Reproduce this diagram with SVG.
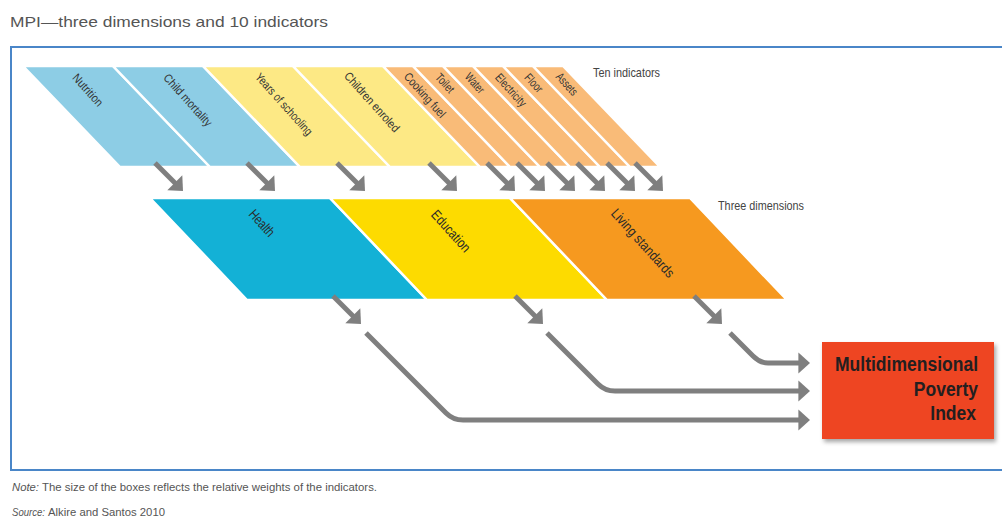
<svg xmlns="http://www.w3.org/2000/svg" width="1002" height="517" viewBox="0 0 1002 517">
<style>
  .cap{font-family:"Liberation Sans","DejaVu Sans",sans-serif;fill:#555}
  .ind{stroke:#fff;stroke-width:2.5;stroke-linejoin:miter}
  .blue{fill:#8dcde5}.lyel{fill:#fde985}.lor{fill:#f9bb78}
  .health{fill:#13b1d6}.edu{fill:#fddb00}.liv{fill:#f6991f}
  .lbl{font-family:"Liberation Sans","DejaVu Sans",sans-serif;font-size:12px;fill:#333;text-anchor:middle}
  .dlbl{font-family:"Liberation Sans","DejaVu Sans",sans-serif;font-size:14px;fill:#2a2a2a;text-anchor:middle}
  .side{font-family:"Liberation Sans","DejaVu Sans",sans-serif;font-size:13px;fill:#444}
  .arr{fill:none;stroke:#7f7f7f;stroke-width:5;marker-end:url(#ah)}
  .mpi{font-family:"Liberation Sans","DejaVu Sans",sans-serif;font-weight:bold;font-size:21px;fill:#231f20;text-anchor:end}
</style>
<defs>
  <marker id="ah" markerUnits="userSpaceOnUse" viewBox="-15 -15 30 30" markerWidth="30" markerHeight="30" refX="0" refY="0" orient="auto">
    <path d="M-1,-10.6 L10.6,0 L-1,10.6 Z" fill="#7f7f7f"/>
  </marker>
  <filter id="sh" x="-10%" y="-10%" width="130%" height="130%">
    <feDropShadow dx="2" dy="3" stdDeviation="2" flood-color="#000" flood-opacity="0.35"/>
  </filter>
</defs>
<rect width="1002" height="517" fill="#fff"/>
<text class="cap" x="10" y="27" font-size="15" textLength="318" lengthAdjust="spacingAndGlyphs">MPI—three dimensions and 10 indicators</text>
<rect x="11" y="47" width="1000" height="423" fill="none" stroke="#4a86c8" stroke-width="2"/>

<g id="indicators">
  <g id="ind-nutrition"><polygon class="ind blue" points="23,66 113,66 210,167 120,167"/>
    <text class="lbl" transform="translate(88,90) rotate(48)" dy="0.35em" textLength="39" lengthAdjust="spacingAndGlyphs">Nutrition</text></g>
  <g id="ind-child-mortality"><polygon class="ind blue" points="113,66 203,66 300,167 210,167"/>
    <text class="lbl" transform="translate(188,100) rotate(48)" dy="0.35em" textLength="66" lengthAdjust="spacingAndGlyphs">Child mortality</text></g>
  <g id="ind-years-schooling"><polygon class="ind lyel" points="203,66 293,66 390,167 300,167"/>
    <text class="lbl" transform="translate(284,104) rotate(48)" dy="0.35em" textLength="79" lengthAdjust="spacingAndGlyphs">Years of schooling</text></g>
  <g id="ind-children-enrolled"><polygon class="ind lyel" points="293,66 383,66 480,167 390,167"/>
    <text class="lbl" transform="translate(372,102) rotate(48)" dy="0.35em" textLength="76" lengthAdjust="spacingAndGlyphs">Children enroled</text></g>
  <g id="ind-cooking-fuel"><polygon class="ind lor" points="383,66 413,66 510,167 480,167"/>
    <text class="lbl" transform="translate(425,95) rotate(48)" dy="0.35em" textLength="56" lengthAdjust="spacingAndGlyphs">Cooking fuel</text></g>
  <g id="ind-toilet"><polygon class="ind lor" points="413,66 443,66 540,167 510,167"/>
    <text class="lbl" transform="translate(445,83) rotate(48)" dy="0.35em" textLength="22" lengthAdjust="spacingAndGlyphs">Toilet</text></g>
  <g id="ind-water"><polygon class="ind lor" points="443,66 473,66 570,167 540,167"/>
    <text class="lbl" transform="translate(475,83) rotate(48)" dy="0.35em" textLength="23" lengthAdjust="spacingAndGlyphs">Water</text></g>
  <g id="ind-electricity"><polygon class="ind lor" points="473,66 503,66 600,167 570,167"/>
    <text class="lbl" transform="translate(511,90) rotate(48)" dy="0.35em" textLength="40" lengthAdjust="spacingAndGlyphs">Electricity</text></g>
  <g id="ind-floor"><polygon class="ind lor" points="503,66 533,66 630,167 600,167"/>
    <text class="lbl" transform="translate(534,83) rotate(48)" dy="0.35em" textLength="21" lengthAdjust="spacingAndGlyphs">Floor</text></g>
  <g id="ind-assets"><polygon class="ind lor" points="533,66 563,66 660,167 630,167"/>
    <text class="lbl" transform="translate(567,84) rotate(48)" dy="0.35em" textLength="26" lengthAdjust="spacingAndGlyphs">Assets</text></g>
  <text id="ten-indicators" class="side" x="593" y="77" textLength="67" lengthAdjust="spacingAndGlyphs">Ten indicators</text>
</g>

<g id="dimensions">
  <g id="dim-health"><polygon class="ind health" points="150,198 330,198 427,300 247,300"/>
    <text class="dlbl" transform="translate(262,223) rotate(48)" dy="0.35em" textLength="31" lengthAdjust="spacingAndGlyphs">Health</text></g>
  <g id="dim-education"><polygon class="ind edu" points="330,198 510,198 607,300 427,300"/>
    <text class="dlbl" transform="translate(451,231) rotate(48)" dy="0.35em" textLength="51" lengthAdjust="spacingAndGlyphs">Education</text></g>
  <g id="dim-living"><polygon class="ind liv" points="510,198 690,198 787,300 607,300"/>
    <text class="dlbl" transform="translate(643,243) rotate(48)" dy="0.35em" textLength="87" lengthAdjust="spacingAndGlyphs">Living standards</text></g>
  <text id="three-dimensions" class="side" x="718" y="210" textLength="86" lengthAdjust="spacingAndGlyphs">Three dimensions</text>
</g>

<g id="mpi">
  <rect x="822" y="342" width="172" height="97" fill="#ee4423" filter="url(#sh)"/>
  <text class="mpi" transform="translate(978,371) scale(0.834,1)">Multidimensional</text>
  <text class="mpi" transform="translate(978,396) scale(0.834,1)">Poverty</text>
  <text class="mpi" transform="translate(976,420) scale(0.834,1)">Index</text>
</g>

<g id="connectors">
  <path class="arr" d="M155,163 L175.5,183.5"/>
  <path class="arr" d="M247,163 L267.5,183.5"/>
  <path class="arr" d="M337,163 L357.5,183.5"/>
  <path class="arr" d="M429,163 L449.5,183.5"/>
  <path class="arr" d="M487,163 L507.5,183.5"/>
  <path class="arr" d="M517,163 L537.5,183.5"/>
  <path class="arr" d="M547,163 L567.5,183.5"/>
  <path class="arr" d="M577,163 L597.5,183.5"/>
  <path class="arr" d="M607,163 L627.5,183.5"/>
  <path class="arr" d="M635,163 L655.5,183.5"/>
  <path class="arr" d="M333,296 L353.5,316.5"/>
  <path class="arr" d="M515,296 L535.5,316.5"/>
  <path class="arr" d="M694,296 L714.5,316.5"/>
  <path class="arr" d="M366,333 L446,413 Q453,420 463,420 L799.4,420"/>
  <path class="arr" d="M547,333 L598,384 Q605,391 615,391 L799.4,391"/>
  <path class="arr" d="M730,333 L753,356 Q760,363 768,363 L799.4,363"/>
</g>

<g id="notes">
  <text class="cap" x="12" y="491" font-size="11.5" font-style="italic" textLength="27" lengthAdjust="spacingAndGlyphs">Note:</text>
  <text class="cap" x="42" y="491" font-size="11.5" textLength="335" lengthAdjust="spacingAndGlyphs">The size of the boxes reflects the relative weights of the indicators.</text>
  <text class="cap" x="12" y="516" font-size="11" font-style="italic" textLength="33" lengthAdjust="spacingAndGlyphs">Source:</text>
  <text class="cap" x="48" y="516" font-size="11" textLength="117" lengthAdjust="spacingAndGlyphs">Alkire and Santos 2010</text>
</g>
</svg>
